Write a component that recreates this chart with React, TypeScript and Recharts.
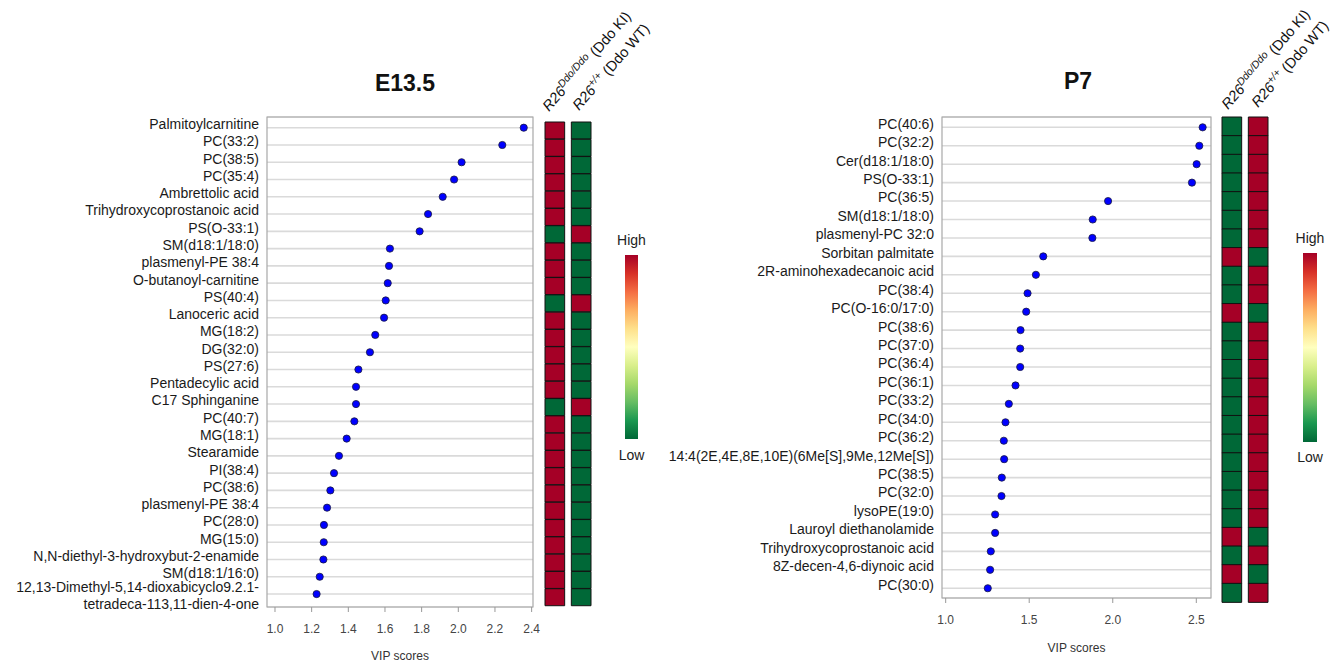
import React from 'react'
import {
  ScatterChart, Scatter, XAxis, YAxis, CartesianGrid, ReferenceArea,
  BarChart, Bar, Cell,
} from 'recharts'

const FONT = '"Liberation Sans", Arial, sans-serif'

// E13.5
const e13Names = [
  'Palmitoylcarnitine', 'PC(33:2)', 'PC(38:5)', 'PC(35:4)', 'Ambrettolic acid',
  'Trihydroxycoprostanoic acid', 'PS(O-33:1)', 'SM(d18:1/18:0)', 'plasmenyl-PE 38:4',
  'O-butanoyl-carnitine', 'PS(40:4)', 'Lanoceric acid', 'MG(18:2)', 'DG(32:0)', 'PS(27:6)',
  'Pentadecylic acid', 'C17 Sphinganine', 'PC(40:7)', 'MG(18:1)', 'Stearamide', 'PI(38:4)',
  'PC(38:6)', 'plasmenyl-PE 38:4', 'PC(28:0)', 'MG(15:0)', 'N,N-diethyl-3-hydroxybut-2-enamide',
  'SM(d18:1/16:0)', '12,13-Dimethyl-5,14-dioxabicyclo9.2.1-\ntetradeca-113,11-dien-4-one',
]
const e13Vip = [
  2.357, 2.24, 2.018, 1.977, 1.915, 1.835, 1.789, 1.627, 1.622, 1.615, 1.604, 1.595, 1.547,
  1.518, 1.455, 1.442, 1.442, 1.433, 1.391, 1.349, 1.322, 1.302, 1.284, 1.267, 1.266, 1.264,
  1.244, 1.227,
]
// 1 = High, 0 = Low
const e13Ki = [1, 1, 1, 1, 1, 1, 0, 1, 1, 1, 0, 1, 1, 1, 1, 1, 0, 1, 1, 1, 1, 1, 1, 1, 1, 1, 1, 1]
const e13Wt = [0, 0, 0, 0, 0, 0, 1, 0, 0, 0, 1, 0, 0, 0, 0, 0, 1, 0, 0, 0, 0, 0, 0, 0, 0, 0, 0, 0]
const e13Ticks = [1.0, 1.2, 1.4, 1.6, 1.8, 2.0, 2.2, 2.4]

// P7
const p7Names = [
  'PC(40:6)', 'PC(32:2)', 'Cer(d18:1/18:0)', 'PS(O-33:1)', 'PC(36:5)', 'SM(d18:1/18:0)',
  'plasmenyl-PC 32:0', 'Sorbitan palmitate', '2R-aminohexadecanoic acid', 'PC(38:4)',
  'PC(O-16:0/17:0)', 'PC(38:6)', 'PC(37:0)', 'PC(36:4)', 'PC(36:1)', 'PC(33:2)', 'PC(34:0)',
  'PC(36:2)', '14:4(2E,4E,8E,10E)(6Me[S],9Me,12Me[S])', 'PC(38:5)', 'PC(32:0)', 'lysoPE(19:0)',
  'Lauroyl diethanolamide', 'Trihydroxycoprostanoic acid', '8Z-decen-4,6-diynoic acid', 'PC(30:0)',
]
const p7Vip = [
  2.538, 2.518, 2.502, 2.474, 1.972, 1.88, 1.878, 1.584, 1.54, 1.49, 1.482, 1.448, 1.446,
  1.446, 1.418, 1.378, 1.358, 1.348, 1.35, 1.336, 1.334, 1.296, 1.296, 1.27, 1.266, 1.252,
]
const p7Ki = [0, 0, 0, 0, 0, 0, 0, 1, 0, 0, 1, 0, 0, 0, 0, 0, 0, 0, 0, 0, 0, 0, 1, 0, 1, 0]
const p7Wt = [1, 1, 1, 1, 1, 1, 1, 0, 1, 1, 0, 1, 1, 1, 1, 1, 1, 1, 1, 1, 1, 1, 0, 1, 0, 1]
const p7Ticks = [1.0, 1.5, 2.0, 2.5]

const HIGH = '#a50026'
const LOW = '#006837'
const rdylgn = ['#a50026', '#d73027', '#f46d43', '#fdae61', '#fee08b', '#ffffbf',
  '#d9ef8b', '#a6d96a', '#66bd63', '#1a9850', '#006837']

function NameTick({ x, y, payload, names }: any) {
  const lines = String(names[payload.value] ?? '').split('\n')
  if (lines.length > 1) {
    return (
      <text x={x} y={y} textAnchor="end" fontSize={14} fill="#1a1a1a" fontFamily={FONT}>
        <tspan x={x} dy={-2}>{lines[0]}</tspan>
        <tspan x={x} dy={16.5}>{lines[1]}</tspan>
      </text>
    )
  }
  return (
    <text x={x} y={y - 3.5} dy="0.35em" textAnchor="end" fontSize={14} fill="#1a1a1a" fontFamily={FONT}>
      {lines[0]}
    </text>
  )
}

const Dot = (p: any) => (
  <circle cx={p.cx} cy={p.cy} r={3.6} fill="#0000ff" stroke="#1a1a40" strokeWidth={0.8} />
)

function VipDots({ names, vip, ticks, xDomain, yDomain, left, width, height, yAxisWidth, labelOffset }: any) {
  const rows = names.map((name: string, i: number) => ({ name, idx: i, vip: vip[i] }))
  const idxTicks = rows.map((r: any) => r.idx)
  return (
    <div style={{ position: 'absolute', left, top: 0 }}>
      <ScatterChart width={width} height={height} margin={{ top: 117, right: 12, bottom: 0, left: 0 }}>
        <CartesianGrid vertical={false} stroke="#dadada" strokeWidth={1.6} />
        <XAxis
          type="number" dataKey="vip" domain={xDomain} ticks={ticks} interval={0} allowDataOverflow
          tickFormatter={(v: number) => v.toFixed(1)} axisLine={false} tickSize={5} tickMargin={12}
          tickLine={{ stroke: '#999' }} tick={{ fontSize: 12, fill: '#444', fontFamily: FONT }} height={56}
          label={{ value: 'VIP scores', position: 'insideBottom', offset: labelOffset, fontSize: 12, fill: '#333', fontFamily: FONT }}
        />
        <YAxis
          type="number" dataKey="idx" domain={yDomain} reversed ticks={idxTicks} interval={0} allowDataOverflow
          width={yAxisWidth} axisLine={false} tickLine={false}
          tick={(props: any) => <NameTick {...props} names={names} />}
        />
        <ReferenceArea
          x1={xDomain[0]} x2={xDomain[1]} y1={yDomain[0]} y2={yDomain[1]}
          fill="none" stroke="#a8a8a8" strokeWidth={1.2} ifOverflow="visible"
        />
        <Scatter data={rows} isAnimationActive={false} shape={Dot} />
      </ScatterChart>
    </div>
  )
}

function HeatCols({ names, ki, wt, left, top, height }: any) {
  const rows = names.map((name: string, i: number) => ({ name, ki: 1, gap: 0.34, wt: 1, kiHigh: ki[i], wtHigh: wt[i] }))
  return (
    <div style={{ position: 'absolute', left, top }}>
      <BarChart
        width={48} height={height} data={rows} layout="vertical" barCategoryGap={0}
        margin={{ top: 1, right: 1, bottom: 1, left: 1 }}
      >
        <XAxis type="number" hide domain={[0, 2.34]} />
        <YAxis type="category" dataKey="name" hide />
        <Bar dataKey="ki" stackId="h" stroke="#111" strokeWidth={1} isAnimationActive={false}>
          {rows.map((r: any, i: number) => <Cell key={i} fill={r.kiHigh ? HIGH : LOW} />)}
        </Bar>
        <Bar dataKey="gap" stackId="h" fill="none" isAnimationActive={false} />
        <Bar dataKey="wt" stackId="h" stroke="#111" strokeWidth={1} isAnimationActive={false}>
          {rows.map((r: any, i: number) => <Cell key={i} fill={r.wtHigh ? HIGH : LOW} />)}
        </Bar>
      </BarChart>
    </div>
  )
}

function Header({ x, y, sup, tag }: any) {
  return (
    <text transform={`translate(${x},${y}) rotate(-49)`} fontSize={14.5} fill="#111" fontFamily={FONT}>
      <tspan fontStyle="italic">R26</tspan>
      <tspan fontStyle="italic" fontSize={10.5} dy={-5.5}>{sup}</tspan>
      <tspan dy={5.5}>{` (${tag})`}</tspan>
    </text>
  )
}

function ColorBar({ x, y, w, h, highY, lowY }: any) {
  return (
    <g>
      <rect x={x} y={y} width={w} height={h} fill="url(#rdylgn)" />
      <text x={x + w / 2} y={highY} textAnchor="middle" fontSize={14} fill="#222" fontFamily={FONT}>High</text>
      <text x={x + w / 2} y={lowY} textAnchor="middle" fontSize={14} fill="#222" fontFamily={FONT}>Low</text>
    </g>
  )
}

export default function App() {
  return (
    <div style={{ position: 'absolute', left: 0, top: 0, width: 1339, height: 663, background: '#fff', overflow: 'hidden' }}>
      <VipDots
        names={e13Names} vip={e13Vip} ticks={e13Ticks} xDomain={[0.9564, 2.4075]} yDomain={[-0.62, 27.75]}
        left={0} width={545} height={663} yAxisWidth={267} labelOffset={3}
      />
      <VipDots
        names={p7Names} vip={p7Vip} ticks={p7Ticks} xDomain={[0.978, 2.588]} yDomain={[-0.56, 25.53]}
        left={655} width={568} height={654} yAxisWidth={287} labelOffset={2}
      />
      <HeatCols names={e13Names} ki={e13Ki} wt={e13Wt} left={544} top={121} height={486} />
      <HeatCols names={p7Names} ki={p7Ki} wt={p7Wt} left={1221} top={116} height={487} />
      <svg width={1339} height={663} style={{ position: 'absolute', left: 0, top: 0, pointerEvents: 'none' }}>
        <defs>
          <linearGradient id="rdylgn" x1="0" y1="0" x2="0" y2="1">
            {rdylgn.map((c, i) => <stop key={i} offset={i / (rdylgn.length - 1)} stopColor={c} />)}
          </linearGradient>
        </defs>
        <text x={405} y={91} textAnchor="middle" fontSize={23} fontWeight="bold" fill="#111" fontFamily={FONT}>E13.5</text>
        <text x={1078} y={89} textAnchor="middle" fontSize={23} fontWeight="bold" fill="#111" fontFamily={FONT}>P7</text>
        <Header x={549} y={112} sup="Ddo/Ddo" tag="Ddo KI" />
        <Header x={579} y={111} sup="+/+" tag="Ddo WT" />
        <Header x={1228} y={110} sup="Ddo/Ddo" tag="Ddo KI" />
        <Header x={1258} y={108} sup="+/+" tag="Ddo WT" />
        <ColorBar x={625} y={255} w={13} h={184} highY={245} lowY={460} />
        <ColorBar x={1303} y={253} w={14} h={189} highY={243} lowY={462} />
      </svg>
    </div>
  )
}
